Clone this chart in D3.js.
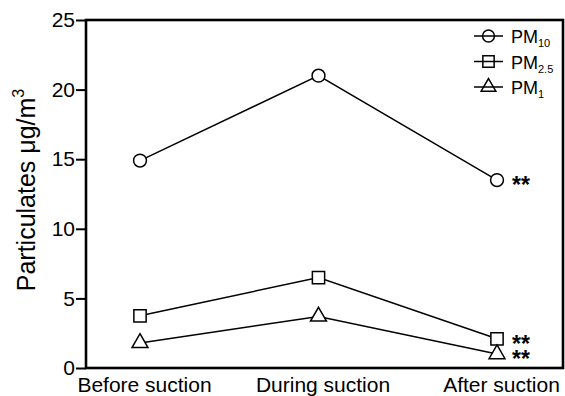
<!DOCTYPE html>
<html><head><meta charset="utf-8">
<script src="https://cdn.jsdelivr.net/npm/d3@7"></script>
<style>body{margin:0;background:#fff}svg{display:block}text{font-family:"Liberation Sans",Arial,sans-serif}</style>
</head><body><svg id="c" width="565" height="396"></svg>
<script>
const categories = ["Before suction", "During suction", "After suction"];
const pm10 = [14.9, 21.0, 13.5];
const pm25 = [3.75, 6.5, 2.1];
const pm1 = [1.8, 3.7, 1.0];
const yTicks = [0, 5, 10, 15, 20, 25];
const seriesNames = ["PM10", "PM2.5", "PM1"];
const seriesSubs = ["10", "2.5", "1"];
const significance = ["", "", "**"];

const svg = d3.select("#c");
const L = 86, R = 563, T = 20, B = 368;
const x = d3.scalePoint().domain(categories).range([140, 497]);
const y = d3.scaleLinear().domain([0, 25]).range([B, T]);

// frame
svg.append("rect").attr("x", L).attr("y", T).attr("width", R - L).attr("height", B - T)
  .attr("fill", "none").attr("stroke", "#000").attr("stroke-width", 2.6);

// y axis
const ya = svg.append("g").attr("transform", `translate(${L},0)`)
  .call(d3.axisLeft(y).tickValues(yTicks).tickSize(10).tickPadding(1));
ya.select(".domain").remove();
ya.selectAll("line").attr("stroke-width", 2);
ya.selectAll("text").attr("font-size", 21).attr("fill", "#000");

// x axis labels
const xa = svg.append("g").attr("transform", `translate(4,${B})`)
  .call(d3.axisBottom(x).tickSize(0).tickPadding(0));
xa.select(".domain").remove();
xa.selectAll("text").attr("font-size", 21).attr("fill", "#000")
  .attr("dy", null).attr("y", 24);

// y label
svg.append("text").attr("transform", `translate(35,190) rotate(-90)`)
  .attr("text-anchor", "middle").attr("font-size", 25)
  .text("Particulates μg/m").append("tspan").attr("font-size", 16).attr("dy", -11).text("3");

const series = [pm10, pm25, pm1];
const shapes = [d3.symbolCircle, d3.symbolSquare, d3.symbolTriangle];
const sizes = [130, 150, 110];
const line = d3.line().x((d, i) => x(categories[i])).y(d => y(d));

series.forEach((s, k) => {
  svg.append("path").attr("d", line(s)).attr("fill", "none").attr("stroke", "#000").attr("stroke-width", 1.5);
  svg.selectAll(null).data(s).enter().append("path")
    .attr("transform", (d, i) => `translate(${x(categories[i])},${y(d)})`)
    .attr("d", d3.symbol().type(shapes[k]).size(sizes[k]))
    .attr("fill", "#fff").attr("stroke", "#000").attr("stroke-width", 1.5);
  s.forEach((d, i) => {
    if (significance[i]) {
      svg.append("text").attr("x", x(categories[i]) + 15).attr("y", y(d) + 13)
        .attr("font-family", "DejaVu Sans").attr("font-size", 23)
        .attr("font-weight", "bold").text(significance[i]);
    }
  });
});

// legend
const lg = svg.append("g");
seriesNames.forEach((n, k) => {
  const cy = 36 + k * 25.5;
  lg.append("line").attr("x1", 474).attr("x2", 503).attr("y1", cy).attr("y2", cy)
    .attr("stroke", "#000").attr("stroke-width", 1.5);
  lg.append("path").attr("transform", `translate(488.5,${cy})`)
    .attr("d", d3.symbol().type(shapes[k]).size(sizes[k] * 0.85))
    .attr("fill", "none").attr("stroke", "#000").attr("stroke-width", 1.5);
  const t = lg.append("text").attr("x", 511).attr("y", cy + 7).attr("font-size", 18).text("PM");
  t.append("tspan").attr("font-size", 11).attr("dy", 4).text(seriesSubs[k]);
});
</script></body></html>
